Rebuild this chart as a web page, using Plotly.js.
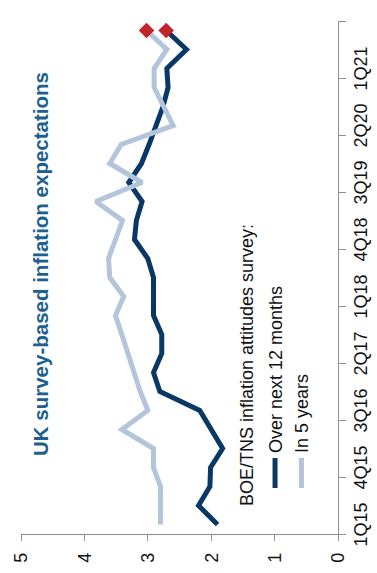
<!DOCTYPE html>
<html><head><meta charset="utf-8">
<script src="https://cdn.plot.ly/plotly-3.0.1.min.js"></script>
<style>
html,body{margin:0;padding:0;width:377px;height:573px;overflow:hidden;background:#fff;}
#chart{position:absolute;left:0;top:0;width:573px;height:377px;transform-origin:0 0;transform:translate(0,573px) rotate(-90deg);}
</style></head><body><div id="chart"></div>
<script>
const QUARTERS = ["1Q15","2Q15","3Q15","4Q15","1Q16","2Q16","3Q16","4Q16","1Q17","2Q17","3Q17","4Q17","1Q18","2Q18","3Q18","4Q18","1Q19","2Q19","3Q19","4Q19","1Q20","2Q20","3Q20","4Q20","1Q21","2Q21","3Q21"];
const NEXT_12_MONTHS = [1.90,2.20,2.02,2.01,1.82,2.00,2.18,2.81,2.91,2.78,2.78,2.91,2.91,2.91,3.00,3.21,3.18,3.09,3.30,3.10,2.98,2.87,2.76,2.68,2.70,2.39,2.71];
const IN_5_YEARS = [2.80,2.80,2.80,2.91,2.91,3.41,3.00,3.12,3.21,3.31,3.41,3.51,3.38,3.60,3.62,3.51,3.40,3.82,3.09,3.60,3.42,2.60,2.76,2.90,2.90,2.70,3.02];
const TIME_TICK_LABELS = ["1Q15","4Q15","3Q16","2Q17","1Q18","4Q18","3Q19","2Q20","1Q21"];
const VALUE_TICKS = [0,1,2,3,4,5];
const SERIES_NAMES = ["Over next 12 months","In 5 years"];
const TITLE = "UK survey-based inflation expectations";
const LEGEND_TITLE = "BOE/TNS inflation attitudes survey:";

const DARK = "#0a3865", LIGHT = "#b3c5da", RED = "#c3232b", AXIS = "#8f8f8f";
const FONT = "Arial, 'Liberation Sans', sans-serif";
const last = QUARTERS.length - 1;

const boundaries = [];
for (let i = 0; i <= QUARTERS.length; i += 3) boundaries.push(i - 0.5);

const traces = [
  {type:'scatter', mode:'lines', name:SERIES_NAMES[0], x:QUARTERS, y:NEXT_12_MONTHS,
   line:{color:DARK, width:5}, legendgroup:'a', hoverinfo:'skip'},
  {type:'scatter', mode:'lines', name:SERIES_NAMES[1], x:QUARTERS, y:IN_5_YEARS,
   line:{color:LIGHT, width:5}, legendgroup:'b', hoverinfo:'skip'},
  {type:'scatter', mode:'markers', x:[QUARTERS[last], QUARTERS[last]],
   y:[NEXT_12_MONTHS[last], IN_5_YEARS[last]],
   marker:{symbol:'diamond', size:12, color:RED}, showlegend:false, hoverinfo:'skip'},
  // invisible helper so the boundary-tick axis is drawn
  {type:'scatter', mode:'markers', x:boundaries, y:boundaries.map(() => null), xaxis:'x2',
   marker:{opacity:0}, showlegend:false, hoverinfo:'skip'}
];

const layout = {
  width:573, height:377, margin:{l:39, r:21, t:21, b:39},
  paper_bgcolor:'#fff', plot_bgcolor:'#fff', showlegend:true,
  font:{family:FONT, size:18, color:'#111'},
  xaxis:{type:'category', categoryarray:QUARTERS, range:[-0.5, QUARTERS.length - 0.5],
    tickmode:'array', tickvals:TIME_TICK_LABELS, ticktext:TIME_TICK_LABELS, ticks:'',
    showgrid:false, zeroline:false, showline:true, linecolor:AXIS, linewidth:1,
    tickfont:{size:18, color:'#111'}, ticklabelstandoff:6, fixedrange:true},
  xaxis2:{type:'linear', overlaying:'x', anchor:'y', side:'bottom', range:[-0.5, QUARTERS.length - 0.5],
    tickmode:'array', tickvals:boundaries, ticks:'outside', ticklen:7, tickcolor:AXIS, tickwidth:1,
    showticklabels:false, showgrid:false, zeroline:false, showline:false, fixedrange:true},
  yaxis:{range:[0,5], tickmode:'array', tickvals:VALUE_TICKS, ticks:'outside', ticklen:6,
    tickcolor:AXIS, showline:true, linecolor:AXIS, linewidth:1, showgrid:false, zeroline:false,
    tickfont:{size:18, color:'#111'}, ticklabelstandoff:8, fixedrange:true},
  legend:{x:0.08, xanchor:'left', y:0.256, yanchor:'top', bgcolor:'rgba(0,0,0,0)',
    font:{size:18, color:'#111'}, tracegroupgap:7, traceorder:'normal'},
  annotations:[
    {xref:'paper', yref:'paper', x:0.148, y:0.94, xanchor:'left', yanchor:'middle',
     text:'<b>' + TITLE + '</b>', showarrow:false, font:{size:20.5, color:'#1b6090'}},
    {xref:'paper', yref:'paper', x:0.0507, y:0.2875, xanchor:'left', yanchor:'middle',
     text:LEGEND_TITLE, showarrow:false, font:{size:18, color:'#111'}}
  ]
};

Plotly.newPlot('chart', traces, layout, {staticPlot:true, displayModeBar:false});
</script></body></html>
